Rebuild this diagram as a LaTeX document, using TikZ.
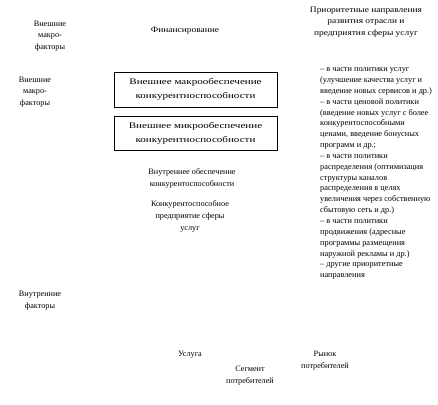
\documentclass[tikz,border=0pt]{standalone}
\usepackage{fontspec}
\setmainfont{Liberation Serif}
\newfontfamily\widefont[FakeStretch=1.15]{Liberation Serif}
\newfontfamily\boxfont[FakeStretch=1.3]{Liberation Serif}
\begin{document}
\begin{tikzpicture}[x=1pt,y=-1pt,
  txt/.style={font=\fontsize{8.2}{11.8}\selectfont,align=center,inner sep=0pt},
  hdr/.style={font=\widefont\fontsize{8.2}{11.7}\selectfont,align=center,inner sep=0pt},
  boxed/.style={draw,line width=0.8pt,inner sep=0pt,font=\boxfont\fontsize{8.5}{14}\selectfont,align=center},
  lst/.style={font=\fontsize{8.3}{10.85}\selectfont,align=left,inner sep=0pt,anchor=north west}]
\useasboundingbox (0,0) rectangle (438,404);
\node[txt] (mf1) at (50,36) {Внешние\\макро-\\факторы};
\node[txt] (mf2) at (35,92) {Внешние\\макро-\\факторы};
\node[hdr] (fin) at (185,31) {Финансирование};
\node[hdr] (prio) at (366,22) {Приоритетные направления\\развития отрасли и\\предприятия сферы услуг};
\node[boxed,minimum width=163pt,minimum height=35pt] (b1) at (195.5,89.5) {Внешнее макрообеспечение\\конкурентноспособности};
\node[boxed,minimum width=163pt,minimum height=34pt] (b2) at (195.5,133) {Внешнее микрообеспечение\\конкурентноспособности};
\node[txt] (vn) at (192,178.5) {Внутреннее обеспечение\\конкурентоспособности};
\node[txt] (kp) at (190,216.5) {Конкурентоспособное\\предприятие сферы\\услуг};
\node[lst] (list) at (320,67.5) {– в части политики услуг\\(улучшение качества услуг и\\введение новых сервисов и др.)\\– в части ценовой политики\\(введение новых услуг с более\\конкурентоспособными\\ценами, введение бонусных\\программ и др.;\\– в части политики\\распределения (оптимизация\\структуры каналов\\распределения в целях\\увеличения через собственную\\сбытовую сеть и др.)\\– в части политики\\продвижения (адресные\\программы размещения\\наружной рекламы и др.)\\– другие приоритетные\\направления};
\node[txt] (vf) at (40,300.5) {Внутренние\\факторы};
\node[txt] (us) at (190,355) {Услуга};
\node[txt] (sg) at (250,375.5) {Сегмент\\потребителей};
\node[txt] (rn) at (325,360.5) {Рынок\\потребителей};
\end{tikzpicture}
\end{document}
